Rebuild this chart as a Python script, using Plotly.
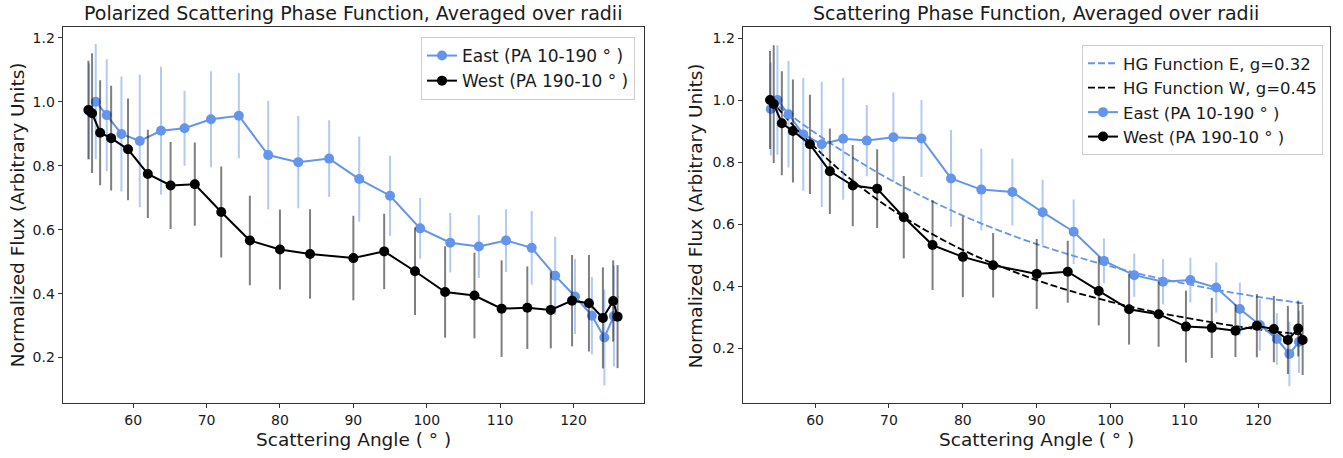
import plotly.graph_objects as go

# ---------------- data ----------------
east_angle = [54.0, 54.9, 56.4, 58.4, 60.9, 63.8, 67.0, 70.6, 74.4, 78.4, 82.5, 86.7,
              90.8, 95.0, 99.1, 103.2, 107.1, 110.8, 114.3, 117.5, 120.2, 122.5, 124.2, 125.5]
west_angle = [53.9, 54.4, 55.5, 57.0, 59.3, 62.0, 65.1, 68.4, 72.0, 75.9, 80.0, 84.1,
              90.0, 94.2, 98.4, 102.5, 106.5, 110.2, 113.7, 116.9, 119.8, 122.1, 124.0, 125.4, 126.0]

# Left panel: polarized phase function
pol_east = [0.970, 1.000, 0.958, 0.899, 0.877, 0.909, 0.917, 0.945, 0.956, 0.833, 0.811, 0.822,
            0.758, 0.706, 0.604, 0.559, 0.547, 0.566, 0.543, 0.456, 0.391, 0.331, 0.263, 0.330]
pol_east_err = [0.150, 0.180, 0.175, 0.180, 0.207, 0.200, 0.117, 0.150, 0.133, 0.170, 0.144, 0.120,
                0.133, 0.125, 0.095, 0.093, 0.098, 0.098, 0.115, 0.122, 0.117, 0.121, 0.150, 0.158]
pol_west = [0.974, 0.964, 0.903, 0.886, 0.851, 0.774, 0.738, 0.742, 0.655, 0.566, 0.538, 0.524,
            0.511, 0.532, 0.470, 0.405, 0.394, 0.353, 0.356, 0.349, 0.378, 0.370, 0.324, 0.377, 0.328]
pol_west_err = [0.154, 0.187, 0.164, 0.164, 0.159, 0.138, 0.136, 0.130, 0.142, 0.140, 0.125, 0.140,
                0.132, 0.118, 0.137, 0.143, 0.134, 0.151, 0.129, 0.120, 0.143, 0.151, 0.158, 0.127, 0.161]

# Right panel: total phase function
tot_east = [0.971, 1.000, 0.954, 0.889, 0.857, 0.875, 0.869, 0.880, 0.876, 0.747, 0.711, 0.703,
            0.638, 0.575, 0.481, 0.435, 0.414, 0.419, 0.395, 0.326, 0.274, 0.229, 0.181, 0.220]
tot_east_err = [0.150, 0.177, 0.172, 0.182, 0.202, 0.197, 0.115, 0.144, 0.124, 0.156, 0.132, 0.108,
                0.105, 0.104, 0.072, 0.070, 0.073, 0.072, 0.081, 0.085, 0.083, 0.083, 0.104, 0.100]
tot_west = [1.000, 0.987, 0.925, 0.900, 0.857, 0.770, 0.724, 0.714, 0.622, 0.532, 0.494, 0.467,
            0.439, 0.446, 0.384, 0.325, 0.309, 0.269, 0.265, 0.256, 0.272, 0.261, 0.226, 0.263, 0.226]
tot_west_err = [0.158, 0.190, 0.168, 0.166, 0.160, 0.138, 0.131, 0.127, 0.133, 0.145, 0.130, 0.104,
                0.113, 0.100, 0.111, 0.114, 0.105, 0.116, 0.097, 0.085, 0.102, 0.107, 0.110, 0.090, 0.113]

# HG model curves
hg_angle = [54, 57, 60, 63, 66, 70, 75, 80, 85, 90, 95, 100, 105, 110, 115, 120, 126]
hg_east = [1.000, 0.945, 0.894, 0.846, 0.801, 0.745, 0.683, 0.627, 0.578, 0.535, 0.497,
           0.463, 0.433, 0.408, 0.385, 0.365, 0.344]
hg_west = [1.000, 0.919, 0.847, 0.781, 0.722, 0.653, 0.579, 0.516, 0.464, 0.419, 0.381,
           0.349, 0.321, 0.298, 0.278, 0.260, 0.243]

x_ticks = [60, 70, 80, 90, 100, 110, 120]
y_ticks = [0.2, 0.4, 0.6, 0.8, 1.0, 1.2]

titles = ["Polarized Scattering Phase Function, Averaged over radii",
          "Scattering Phase Function, Averaged over radii"]
x_title = "Scattering Angle ( ° )"
y_title = "Normalized Flux (Arbitrary Units)"
lbl_east = "East (PA 10-190 ° )"
lbl_west = "West (PA 190-10 ° )"
lbl_hge = "HG Function E, g=0.32"
lbl_hgw = "HG Function W, g=0.45"

# ---------------- styling ----------------
BLUE = "#6495ED"
BLUE_ERR = "rgba(100,149,237,0.5)"
BLACK = "#000000"
BLACK_ERR = "rgba(0,0,0,0.5)"
FONT = "DejaVu Sans"
TXT = "#1a1a1a"
W, H = 1343, 458

fig = go.Figure()


def data_trace(x, y, err, color, ecolor, name, xa, ya, legend):
    return go.Scatter(
        x=x, y=y, name=name, mode="lines+markers",
        line=dict(color=color, width=2),
        marker=dict(color=color, size=10),
        error_y=dict(type="data", array=err, visible=True, color=ecolor,
                     thickness=2, width=0),
        xaxis=xa, yaxis=ya, legend=legend,
    )


fig.add_trace(data_trace(east_angle, pol_east, pol_east_err, BLUE, BLUE_ERR, lbl_east, "x", "y", "legend"))
fig.add_trace(data_trace(west_angle, pol_west, pol_west_err, BLACK, BLACK_ERR, lbl_west, "x", "y", "legend"))

fig.add_trace(go.Scatter(x=hg_angle, y=hg_east, name=lbl_hge, mode="lines",
                         line=dict(color=BLUE, width=1.8, dash="7px,3px", shape="spline"),
                         xaxis="x2", yaxis="y2", legend="legend2"))
fig.add_trace(go.Scatter(x=hg_angle, y=hg_west, name=lbl_hgw, mode="lines",
                         line=dict(color=BLACK, width=1.8, dash="7px,3px", shape="spline"),
                         xaxis="x2", yaxis="y2", legend="legend2"))
fig.add_trace(data_trace(east_angle, tot_east, tot_east_err, BLUE, BLUE_ERR, lbl_east, "x2", "y2", "legend2"))
fig.add_trace(data_trace(west_angle, tot_west, tot_west_err, BLACK, BLACK_ERR, lbl_west, "x2", "y2", "legend2"))

y_dom = [1 - 403 / H, 1 - 27.3 / H]
axis_common = dict(showline=True, linecolor="#333333", linewidth=1.2, mirror=True,
                   ticks="outside", ticklen=4, tickcolor="#333333", tickwidth=1.2,
                   showgrid=False, zeroline=False,
                   tickfont=dict(family=FONT, size=14, color=TXT))

fig.update_layout(
    width=W, height=H,
    margin=dict(l=0, r=0, t=0, b=0),
    paper_bgcolor="white", plot_bgcolor="white",
    font=dict(family=FONT, size=14, color=TXT),
    showlegend=True,
    xaxis=dict(domain=[62.7 / W, 644 / W], range=[50.4, 129.6], tickvals=x_ticks,
               anchor="y", **axis_common),
    yaxis=dict(domain=y_dom, range=[0.058, 1.2325], tickvals=y_ticks, tickformat=".1f",
               anchor="x", **axis_common),
    xaxis2=dict(domain=[742.7 / W, 1330 / W], range=[50.2, 129.7], tickvals=x_ticks,
                anchor="y2", **axis_common),
    yaxis2=dict(domain=y_dom, range=[0.0226, 1.2345], tickvals=y_ticks, tickformat=".1f",
                anchor="x2", **axis_common),
    legend=dict(x=635 / W, y=1 - 37 / H, xanchor="right", yanchor="top",
                bgcolor="rgba(255,255,255,0.8)", bordercolor="#cccccc", borderwidth=1,
                font=dict(family=FONT, size=17, color=TXT)),
    legend2=dict(x=1323 / W, y=1 - 45 / H, xanchor="right", yanchor="top",
                 bgcolor="rgba(255,255,255,0.8)", bordercolor="#cccccc", borderwidth=1,
                 font=dict(family=FONT, size=16.5, color=TXT)),
)

ann = []
for cx, t in [((62.7 + 644) / 2, titles[0]), ((742.7 + 1330) / 2, titles[1])]:
    ann.append(dict(x=cx / W, y=1 - 13 / H, xref="paper", yref="paper", text=t,
                    showarrow=False, xanchor="center", yanchor="middle",
                    font=dict(family=FONT, size=19, color=TXT)))
    ann.append(dict(x=cx / W, y=1 - 439 / H, xref="paper", yref="paper", text=x_title,
                    showarrow=False, xanchor="center", yanchor="middle",
                    font=dict(family=FONT, size=18.5, color=TXT)))
for px in [17, 695]:
    ann.append(dict(x=px / W, y=(y_dom[0] + y_dom[1]) / 2, xref="paper", yref="paper",
                    text=y_title, textangle=-90, showarrow=False,
                    xanchor="center", yanchor="middle",
                    font=dict(family=FONT, size=18.5, color=TXT)))
fig.update_layout(annotations=ann)

fig.write_html("out.html")
